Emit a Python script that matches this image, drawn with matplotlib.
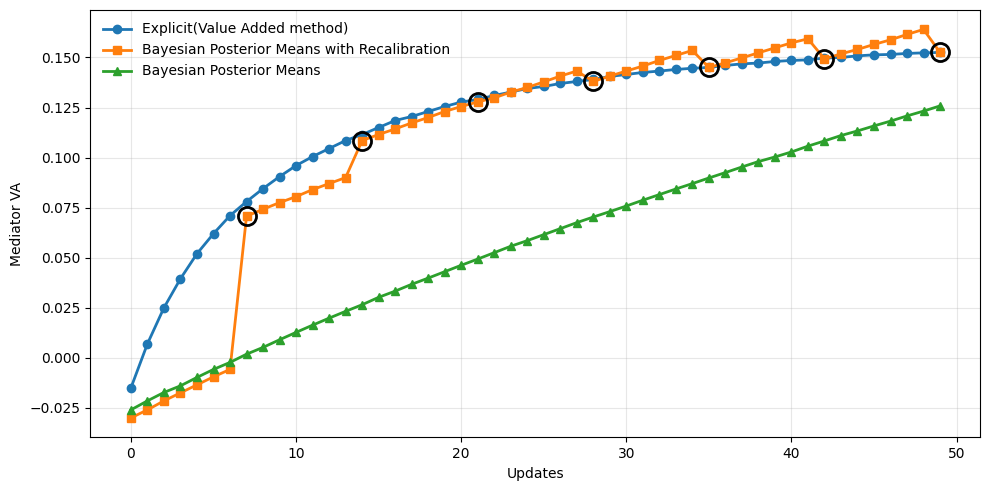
import numpy as np
from matplotlib import pyplot as plt

updates = np.arange(50)

explicit_va = [
    -0.015, 0.007, 0.025, 0.0395, 0.052, 0.062, 0.071, 0.078, 0.0845, 0.0905,
    0.096, 0.1005, 0.1045, 0.1085, 0.1115, 0.115, 0.1185, 0.1205, 0.123, 0.1255,
    0.1277, 0.129, 0.131, 0.1327, 0.1345, 0.1355, 0.137, 0.138, 0.139, 0.1405,
    0.1415, 0.1425, 0.1432, 0.144, 0.1446, 0.1450, 0.146, 0.1468, 0.1472, 0.148,
    0.1485, 0.1488, 0.1497, 0.150, 0.1508, 0.1513, 0.1515, 0.152, 0.1523, 0.1525,
]

recalibrated_va = [
    -0.030, -0.026, -0.0215, -0.0175, -0.0135, -0.0095, -0.0058, 0.0707, 0.0742, 0.0775,
    0.0805, 0.084, 0.087, 0.090, 0.1085, 0.1115, 0.1143, 0.1173, 0.120, 0.123,
    0.1255, 0.1278, 0.1298, 0.1327, 0.135, 0.1378, 0.1407, 0.1432, 0.138, 0.1407,
    0.1432, 0.1457, 0.1485, 0.151, 0.1535, 0.145, 0.1473, 0.1498, 0.1523, 0.1548,
    0.1573, 0.1593, 0.1493, 0.1518, 0.154, 0.1565, 0.1588, 0.1615, 0.164, 0.1525,
]

posterior_va = [
    -0.026, -0.0215, -0.0173, -0.014, -0.0098, -0.0058, -0.0023, 0.0018, 0.0052, 0.009,
    0.0127, 0.0163, 0.0198, 0.0232, 0.0265, 0.0302, 0.0333, 0.0367, 0.0398, 0.043,
    0.0462, 0.0493, 0.0525, 0.0557, 0.0585, 0.0615, 0.0645, 0.0675, 0.0703, 0.073,
    0.0758, 0.0787, 0.0815, 0.0843, 0.087, 0.0898, 0.0925, 0.0953, 0.098, 0.1003,
    0.1028, 0.1057, 0.1083, 0.111, 0.1133, 0.1158, 0.1182, 0.1208, 0.1232, 0.1258,
]

# recalibration happens every 7 updates
recal_steps = [7, 14, 21, 28, 35, 42, 49]

fig, ax = plt.subplots(figsize=(9.89, 4.9), dpi=100)
fig.subplots_adjust(left=0.0915, right=0.9914, top=0.9796, bottom=0.1076)

ax.plot(updates, explicit_va, marker='o', lw=2, label='Explicit(Value Added method)')
ax.plot(updates, recalibrated_va, marker='s', lw=2,
        label='Bayesian Posterior Means with Recalibration')
ax.plot(updates, posterior_va, marker='^', lw=2, label='Bayesian Posterior Means')

recal_vals = np.array(recalibrated_va)[recal_steps]
ax.plot(recal_steps, recal_vals, ls='none', marker='o', ms=13,
        mfc='none', mec='black', mew=2)

ax.set_xlabel('Updates')
ax.set_ylabel('Mediator VA')
ax.grid(alpha=0.3)
ax.legend(loc='upper left', frameon=False)

fig.savefig('out.png')
